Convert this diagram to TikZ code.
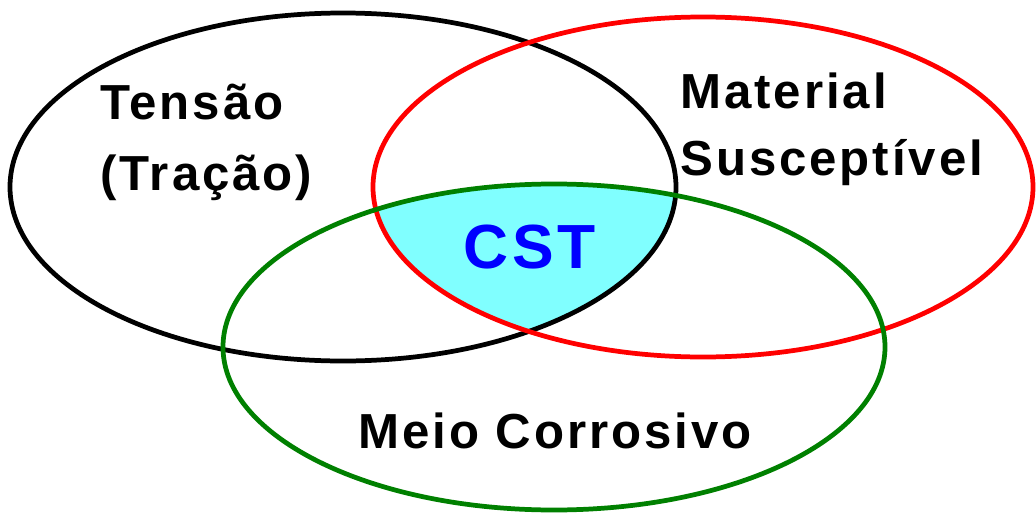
\documentclass[tikz,border=0pt]{standalone}
\usepackage{fontspec}
\newfontfamily\vennfont[LetterSpace=6]{Liberation Sans}
\usepackage{tikz}
\usetikzlibrary{positioning}
\definecolor{cstfill}{RGB}{128,255,255}
\definecolor{meiogreen}{RGB}{0,128,0}

\begin{document}
\begin{tikzpicture}[x=0.02cm, y=-0.02cm]
	\tikzset{
		ring/.style={line width=2.7pt},
		lbl/.style={inner sep=0pt, anchor=base west, align=left, font=\vennfont\bfseries\fontsize{28}{40}\selectfont}
	}
	\useasboundingbox (0,0) rectangle (1036,514);
	% intersection of the three sets
	\begin{scope}
		\clip (343,187) ellipse [x radius=333, y radius=174];
		\clip (703,187) ellipse [x radius=330, y radius=170];
		\fill[cstfill] (554,347) ellipse [x radius=331, y radius=163];
	\end{scope}
	\draw[ring, black] (343,187) ellipse [x radius=333, y radius=174];
	\draw[ring, red] (703,187) ellipse [x radius=330, y radius=170];
	\draw[ring, meiogreen] (554,347) ellipse [x radius=331, y radius=163];
	\node[lbl] (tensao) at (100,190) {Tensão\\(Tração)};
	\node[lbl, font=\vennfont\bfseries\fontsize{28}{38}\selectfont] (material) at (680,175) {Material\\Susceptível};
	\node[lbl, font=\vennfont\bfseries\fontsize{28}{40}\selectfont] (meio) at (358,448) {Meio Corrosivo};
	\node[lbl, blue, font=\vennfont\bfseries\fontsize{35.5}{40}\selectfont] (cst) at (463,268) {CST};
\end{tikzpicture}
\end{document}
